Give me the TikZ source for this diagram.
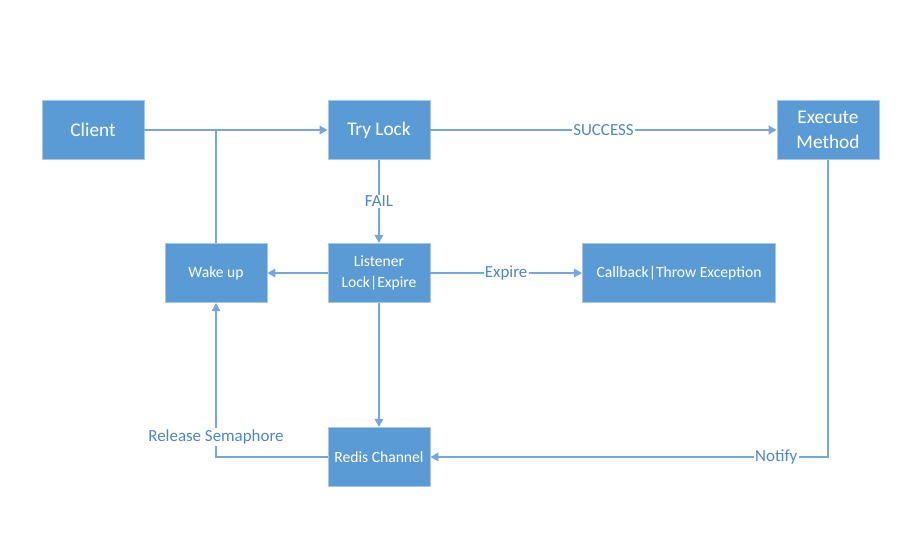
\documentclass[tikz,border=0pt]{standalone}
\usepackage{fontspec}
\setmainfont{Carlito}
\usepackage{tikz}
\usetikzlibrary{calc}
\usetikzlibrary{arrows.meta}

\definecolor{boxblue}{HTML}{5B9BD5}
\definecolor{edgeblue}{HTML}{A9C6E8}
\definecolor{lineblue}{HTML}{74A7DD}
\definecolor{labelblue}{HTML}{4F86C6}

\tikzset{
    bigbox/.style={draw=edgeblue, line width=0.6pt, fill=boxblue, text=white,
        minimum width=76.5pt, minimum height=44.5pt, align=center,
        font=\fontsize{14.5}{19}\selectfont},
    smallbox/.style={bigbox, font=\fontsize{11.7}{15.5}\selectfont},
    wire/.style={draw=lineblue, line width=0.9pt},
    flow/.style={wire, -{Triangle[length=6pt,width=6.5pt]}},
    lbl/.style={fill=white, text=labelblue, inner sep=1pt,
        font=\fontsize{12.7}{15}\selectfont}
}

\begin{document}
\begin{tikzpicture}[x=0.75pt,y=-0.75pt]
    % Page size, in pixels of the original
    \useasboundingbox (0,0) rectangle (899,544);

    % Top row
    \node[bigbox] (client) at (93,130) {Client};
    \node[bigbox] (trylock) at (379,130) {Try Lock};
    \node[bigbox] (execute) at (828,130) {Execute\\Method};

    % Middle row
    \node[smallbox] (wakeup) at (216,273) {Wake up};
    \node[smallbox] (listener) at (379,273) {Listener\\Lock|Expire};
    \node[smallbox, minimum width=145pt] (callback) at (679,273) {Callback|Throw Exception};

    % Bottom row
    \node[smallbox] (redis) at (379,457) {Redis Channel};

    % Point where the wake up line meets the client line
    \coordinate (join) at (wakeup.north |- trylock.west);

    % Draw connectors
    \draw[flow] (client) -- (trylock);
    \draw[wire] (wakeup) -- (join);
    \draw[flow] (trylock) -- node[lbl] {SUCCESS} (execute);
    \draw[flow] (trylock) -- node[lbl] {FAIL} (listener);
    \draw[flow] (listener) -- (wakeup);
    \draw[flow] (listener) -- node[lbl] {Expire} (callback);
    \draw[flow] (listener) -- (redis);
    \draw[flow] (execute) |- node[lbl, pos=0.565] {Notify} (redis);
    \draw[flow] (redis) -| node[lbl, pos=0.565] {Release Semaphore} (wakeup);
\end{tikzpicture}
\end{document}
